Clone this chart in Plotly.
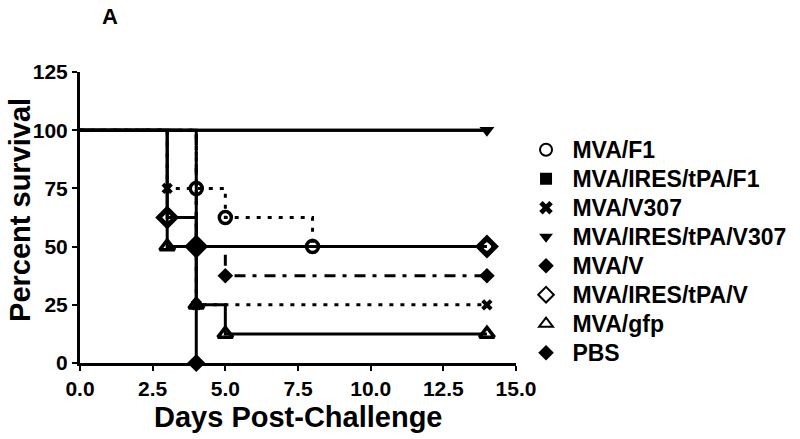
import plotly.graph_objects as go

# ---- data (Kaplan-Meier steps) ----
names = ["MVA/F1", "MVA/IRES/tPA/F1", "MVA/V307", "MVA/IRES/tPA/V307",
         "MVA/V", "MVA/IRES/tPA/V", "MVA/gfp", "PBS"]
days_F1 = [0, 4, 5, 8, 14]
surv_F1 = [100, 75, 62.5, 50, 50]
days_IF1 = [0, 14]
surv_IF1 = [100, 100]
days_V307 = [0, 3, 4, 14]
surv_V307 = [100, 75, 25, 25]
days_IV307 = [0, 14]
surv_IV307 = [100, 100]
days_V = [0, 4, 5, 14]
surv_V = [100, 50, 37.5, 37.5]
days_IV = [0, 3, 4, 14]
surv_IV = [100, 62.5, 50, 50]
days_gfp = [0, 3, 4, 5, 14]
surv_gfp = [100, 50, 25, 12.5, 12.5]
days_PBS = [0, 4]
surv_PBS = [100, 0]

x_ticks = [0, 2.5, 5, 7.5, 10, 12.5, 15]
x_ticklabels = ["0.0", "2.5", "5.0", "7.5", "10.0", "12.5", "15.0"]
y_ticks = [0, 25, 50, 75, 100, 125]

series = [
    (names[0], days_F1, surv_F1),
    (names[1], days_IF1, surv_IF1),
    (names[2], days_V307, surv_V307),
    (names[3], days_IV307, surv_IV307),
    (names[4], days_V, surv_V),
    (names[5], days_IV, surv_IV),
    (names[6], days_gfp, surv_gfp),
    (names[7], days_PBS, surv_PBS),
]

# ---- styles ----
dot = "4px,7px"
dashdot = "11px,7px,4px,8px"
line_dash = [dot, "solid", dot, "solid", dashdot, "solid", "solid", "solid"]
sym = ["circle-open", "square", "x", "triangle-down", "diamond",
       "diamond-open", "triangle-up-open", "diamond"]
msize = [12, 3, 10, 13, 12, 13, 13, 14]
mline = [3.5, 0, 0, 0, 0, 5, 3.5, 0]

FONT = "Arial, Liberation Sans, Helvetica, sans-serif"

fig = go.Figure()
# lines first (solid drawn above dotted where they overlap)
line_order = [0, 2, 4, 1, 3, 5, 6, 7]
for i in line_order:
    nm, d, s = series[i]
    fig.add_trace(go.Scatter(
        x=d, y=s, mode="lines", line=dict(shape="hv", color="black", width=3,
                                          dash=line_dash[i]),
        showlegend=False, hoverinfo="skip", legendgroup=nm))

# markers (skip the starting point at day 0)
marker_order = [1, 0, 2, 3, 6, 4, 5, 7]
for i in marker_order:
    nm, d, s = series[i]
    fig.add_trace(go.Scatter(
        x=d[1:], y=s[1:], mode="markers",
        name='<span style="font-size:23px">\u00a0' + nm + '</span>',
        legendgroup=nm, legendrank=i + 1,
        marker=dict(symbol=sym[i], size=msize[i], color="black",
                    line=dict(color="black", width=mline[i])),
        cliponaxis=False))

fig.update_layout(
    width=800, height=439,
    margin=dict(l=80, r=284, t=72, b=76, autoexpand=False),
    paper_bgcolor="white", plot_bgcolor="white",
    font=dict(family=FONT, color="black", size=21, weight="bold"),
    showlegend=True,
    legend=dict(x=1.023, xanchor="left", xref="paper", y=0.80, yanchor="top",
                font=dict(size=20, family=FONT, weight="bold"),
                itemsizing="constant", bgcolor="rgba(0,0,0,0)",
                tracegroupgap=0),
    xaxis=dict(range=[0, 15], tickvals=x_ticks, ticktext=x_ticklabels,
               showgrid=False, zeroline=False, showline=True, linewidth=3,
               linecolor="black", ticks="outside", ticklen=5, tickwidth=2,
               tickcolor="black", automargin=False,
               tickfont=dict(size=21, family=FONT, weight="bold")),
    yaxis=dict(range=[0, 125], tickvals=y_ticks,
               showgrid=False, zeroline=False, showline=True, linewidth=3,
               linecolor="black", ticks="outside", ticklen=5, tickwidth=2,
               tickcolor="black", automargin=False,
               tickfont=dict(size=21, family=FONT, weight="bold")),
    annotations=[
        dict(text="A", xref="paper", yref="paper", x=0.069, y=1.19,
             showarrow=False, xanchor="center", yanchor="middle",
             font=dict(size=22, family=FONT, weight="bold")),
        dict(text="Days Post-Challenge", xref="paper", yref="paper",
             x=0.5, y=-0.185, showarrow=False, xanchor="center",
             yanchor="middle",
             font=dict(size=29, family=FONT, weight="bold")),
        dict(text="Percent survival", xref="paper", yref="paper",
             x=-0.1376, y=0.526, showarrow=False, textangle=-90,
             xanchor="center", yanchor="middle",
             font=dict(size=29, family=FONT, weight="bold")),
    ],
)

fig.write_html("out.html", config={"displayModeBar": False},
               post_script="document.body.style.margin='0px';")
